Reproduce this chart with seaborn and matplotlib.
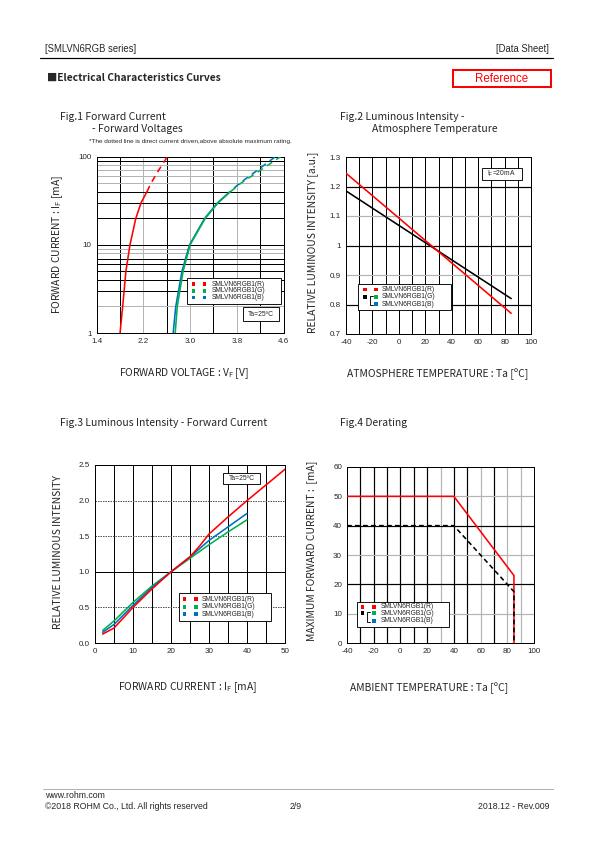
import matplotlib
matplotlib.use('Agg')
import matplotlib.pyplot as plt
from matplotlib.patches import Rectangle
from matplotlib.lines import Line2D
import seaborn as sns
import numpy as np

# ---- data ----
# Fig.1  forward current vs forward voltage
if_ma = [1, 2, 5, 10, 20, 30, 40, 50, 70, 100]
vf_r = [1.80, 1.845, 1.90, 1.97, 2.07, 2.16, 2.26, 2.33, 2.46, 2.61]
vf_g = [2.745, 2.78, 2.88, 3.00, 3.26, 3.48, 3.69, 3.87, 4.20, 4.55]
vf_b = [2.71, 2.755, 2.86, 2.99, 3.25, 3.47, 3.68, 3.85, 4.15, 4.46]
dc_max = 40   # above this the curve is dotted

# Fig.2  luminous intensity vs temperature
ta2 = [-40, 85]
iv_r2 = [1.245, 0.77]
iv_gb2 = [1.185, 0.82]

# Fig.3  luminous intensity vs forward current
if3_r = [2, 5, 10, 15, 20, 25, 27.5, 30, 35, 40, 45, 50]
iv3_r = [0.125, 0.21, 0.50, 0.76, 1.0, 1.21, 1.36, 1.53, 1.77, 2.0, 2.22, 2.44]
if3_gb = [2, 5, 10, 15, 20, 25, 30, 35, 40]
iv3_g = [0.175, 0.31, 0.57, 0.80, 1.0, 1.19, 1.38, 1.56, 1.73]
iv3_b = [0.15, 0.26, 0.53, 0.78, 1.0, 1.21, 1.44, 1.63, 1.82]

# Fig.4  derating
ta4 = [-40, 40, 85, 85]
imax_r = [50, 50, 23, 0]
imax_gb = [40, 40, 17.5, 0]

names = ['SMLVN6RGB1(R)', 'SMLVN6RGB1(G)', 'SMLVN6RGB1(B)']
RED, GREEN, BLUE = '#ff0000', '#00b050', '#0070c0'
GRID_K, GRID_G = '#000000', '#b4b4b4'

sns.set_style('white', {'axes.edgecolor': 'black'})
plt.rcParams['font.family'] = ['Liberation Sans', 'DejaVu Sans']
plt.rcParams['mathtext.default'] = 'regular'
plt.rcParams['axes.unicode_minus'] = False
GOTHIC = ['Noto Sans CJK JP', 'DejaVu Sans']
TS = 10.4   # figure titles
LS = 10.3   # axis labels

W, H = 595, 842
fig = plt.figure(figsize=(W / 72, H / 72), dpi=72)


def fx(px):
    return px / W


def fy(py):
    return 1 - py / H


def add_ax(l, t, r, b):
    ax = fig.add_axes([fx(l), fy(b), (r - l) / W, (b - t) / H])
    for s in ax.spines.values():
        s.set_color('black')
        s.set_linewidth(1.0)
    ax.tick_params(length=0, labelsize=8, pad=5)
    return ax


def box(l, t, r, b, lw=0.9, ec='black'):
    fig.add_artist(Rectangle((fx(l), fy(b)), (r - l) / W, (b - t) / H,
                             transform=fig.transFigure, fill=True, fc='white',
                             ec=ec, lw=lw, zorder=5))


def square(x, y, c):
    s = 3.6
    fig.add_artist(Rectangle((fx(x - s / 2), fy(y + s / 2)), s / W, s / H,
                             transform=fig.transFigure, color=c, lw=0, zorder=6))


def key(l, t, r, b, sq_x, txt_x, rows_y, bracket=False):
    box(l, t, r, b)
    cols = [RED, GREEN, BLUE]
    for i, (nm, y) in enumerate(zip(names, rows_y)):
        if bracket:
            if i == 0:
                square(sq_x[0], y, RED)
            elif i == 1:
                square(sq_x[0], y, 'black')
            square(sq_x[1], y, cols[i])
        else:
            square(sq_x[0], y, cols[i])
            square(sq_x[1], y, cols[i])
        fig.text(fx(txt_x), fy(y), nm, fontsize=6.6, va='center', ha='left',
                 color='#222222', zorder=7)
    if bracket:
        bx = sq_x[0] + 4.5
        fig.add_artist(Line2D([fx(bx + 3), fx(bx), fx(bx), fx(bx + 3)],
                              [fy(rows_y[1] - 1.5), fy(rows_y[1] - 1.5),
                               fy(rows_y[2] + 1), fy(rows_y[2] + 1)],
                              transform=fig.transFigure, color='black', lw=0.9, zorder=6))


def note(l, t, r, b, s):
    box(l, t, r, b)
    fig.text(fx((l + r) / 2), fy((t + b) / 2), s, fontsize=6.8, ha='center',
             va='center', zorder=7)


def curve(ax, x, y, c, **kw):
    sns.lineplot(x=x, y=y, ax=ax, color=c, lw=1.6, sort=False, estimator=None,
                 zorder=kw.pop('zorder', 3), **kw)


# ---- page header / footer ----
fig.text(fx(45), fy(49), '[SMLVN6RGB series]', fontsize=9.5, va='center')
fig.text(fx(549), fy(49), '[Data Sheet]', fontsize=9.5, va='center', ha='right')
fig.add_artist(Line2D([fx(40), fx(553)], [fy(58), fy(58)], transform=fig.transFigure,
                      color='black', lw=1.2))
fig.text(fx(47), fy(77.5), '■Electrical Characteristics Curves', fontsize=10.3,
         va='center', fontweight='bold', family=GOTHIC)
box(453, 70, 551, 87, lw=2, ec=RED)
fig.text(fx(502), fy(78.5), 'Reference', fontsize=11.5, color=RED, ha='center', va='center',
         zorder=7)
fig.add_artist(Line2D([fx(43), fx(553)], [fy(789), fy(789)], transform=fig.transFigure,
                      color='#b0b0b0', lw=1))
fig.text(fx(45), fy(796), 'www.rohm.com', fontsize=8.8, va='center')
fig.text(fx(45), fy(806.5), '©2018 ROHM Co., Ltd. All rights reserved', fontsize=8.8, va='center')
fig.text(fx(296), fy(806.5), '2/9', fontsize=8.8, va='center', ha='center')
fig.text(fx(549), fy(806.5), '2018.12 - Rev.009', fontsize=8.8, va='center', ha='right')

# ---- Fig.1 ----
fig.text(fx(60), fy(117), 'Fig.1 Forward Current', fontsize=TS, va='center', family=GOTHIC)
fig.text(fx(92), fy(129), '- Forward Voltages', fontsize=TS, va='center', family=GOTHIC)
fig.text(fx(89), fy(142), '*The dotted line is direct current driven,above absolute maximum rating.',
         fontsize=6.4, va='center')

ax1 = add_ax(96.7, 156.7, 283.5, 333)
ax1.set_yscale('log')
ax1.set_xlim(1.4, 4.6)
ax1.set_ylim(1, 100)
for k, v in enumerate(np.arange(1.8, 4.3, 0.4)):
    ax1.axvline(v, color=GRID_K if k % 2 == 0 else GRID_G, lw=1, zorder=1)
for dec in [1, 10]:
    for m in range(2, 10):
        gray = m in (2, 8, 9) if dec == 1 else m in (5, 6, 7, 8)
        ax1.axhline(dec * m, color=GRID_G if gray else GRID_K, lw=1, zorder=1)
ax1.axhline(10, color=GRID_K, lw=1, zorder=1)

lo = [i for i, v in enumerate(if_ma) if v <= dc_max]
hi = [i for i, v in enumerate(if_ma) if v >= dc_max]
vf_sets = [(vf_b, BLUE, (3.5, (4, 3))), (vf_g, GREEN, (0, (4, 3))), (vf_r, RED, (0, (4, 3)))]
for vf, c, dash in vf_sets:
    curve(ax1, [vf[i] for i in lo], [if_ma[i] for i in lo], c)
    curve(ax1, [vf[i] for i in hi], [if_ma[i] for i in hi], c, linestyle=dash)
ax1.set_xticks([1.4, 2.2, 3.0, 3.8, 4.6])
ax1.set_xticklabels(['1.4', '2.2', '3.0', '3.8', '4.6'])
ax1.set_yticks([1, 10, 100])
ax1.set_yticklabels(['1', '10', '100'])
ax1.yaxis.set_minor_locator(matplotlib.ticker.NullLocator())
fig.text(fx(184), fy(374), 'FORWARD VOLTAGE : $\\mathregular{V_F}$ [V]', fontsize=LS,
         ha='center', va='center', family=GOTHIC)
fig.text(fx(58), fy(245), 'FORWARD CURRENT : $\\mathregular{I_F}$ [mA]', fontsize=LS,
         ha='center', va='center', rotation=90, family=GOTHIC)
key(187, 278, 280.5, 303.5, [193.3, 204.3], 211.5, [284, 290.7, 297.3])
note(243.3, 307.5, 279.3, 320.5, 'Ta=25ºC')

# ---- Fig.2 ----
fig.text(fx(340), fy(117), 'Fig.2 Luminous Intensity -', fontsize=TS, va='center', family=GOTHIC)
fig.text(fx(372.5), fy(129), 'Atmosphere Temperature', fontsize=TS, va='center', family=GOTHIC)
ax2 = add_ax(346, 157, 531, 334)
ax2.set_xlim(-40, 100)
ax2.set_ylim(0.7, 1.3)
for v in range(-30, 100, 10):
    ax2.axvline(v, color=GRID_K, lw=1, zorder=1)
for v, c in zip([0.8, 0.9, 1.0, 1.1, 1.2], [GRID_K, GRID_G, GRID_K, GRID_G, GRID_K]):
    ax2.axhline(v, color=c, lw=1.2, zorder=1)
curve(ax2, ta2, iv_gb2, 'black')
curve(ax2, ta2, iv_r2, RED)
ax2.set_xticks(range(-40, 101, 20))
ax2.set_yticks([0.7, 0.8, 0.9, 1.0, 1.1, 1.2, 1.3])
ax2.set_yticklabels(['0.7', '0.8', '0.9', '1', '1.1', '1.2', '1.3'])
fig.text(fx(438), fy(374), 'ATMOSPHERE TEMPERATURE : Ta [ºC]', fontsize=LS,
         ha='center', va='center', family=GOTHIC)
fig.text(fx(313), fy(242), 'RELATIVE LUMINOUS INTENSITY [a.u.]', fontsize=LS,
         ha='center', va='center', rotation=90, family=GOTHIC)
key(358, 284, 450.5, 310, [365, 376], 382, [289.5, 297, 304], bracket=True)
note(482, 168.5, 521.5, 179.5, '$\\mathregular{I_F}$=20mA')

# ---- Fig.3 ----
fig.text(fx(60), fy(423), 'Fig.3 Luminous Intensity - Forward Current', fontsize=TS,
         va='center', family=GOTHIC)
ax3 = add_ax(95, 465, 285, 643)
ax3.set_xlim(0, 50)
ax3.set_ylim(0, 2.5)
for v in range(5, 50, 5):
    ax3.axvline(v, color=GRID_K, lw=1, zorder=1)
for v in [0.5, 1.5, 2.0]:
    ax3.axhline(v, color='#555555', lw=1, ls=(0, (1.5, 1)), zorder=1)
ax3.axhline(1.0, color=GRID_K, lw=1, zorder=1)
curve(ax3, if3_gb, iv3_g, GREEN)
curve(ax3, if3_gb, iv3_b, BLUE)
curve(ax3, if3_r, iv3_r, RED)
ax3.set_xticks(range(0, 51, 10))
ax3.set_yticks([0, 0.5, 1.0, 1.5, 2.0, 2.5])
ax3.set_yticklabels(['0.0', '0.5', '1.0', '1.5', '2.0', '2.5'])
fig.text(fx(187.5), fy(688), 'FORWARD CURRENT : $\\mathregular{I_F}$ [mA]', fontsize=LS,
         ha='center', va='center', family=GOTHIC)
fig.text(fx(58), fy(552), 'RELATIVE LUMINOUS INTENSITY', fontsize=LS,
         ha='center', va='center', rotation=90, family=GOTHIC)
key(178.5, 593.3, 271, 620.5, [184.3, 195.7], 202, [599.3, 606.7, 614])
note(223, 472.7, 259.7, 484, 'Ta=25ºC')

# ---- Fig.4 ----
fig.text(fx(340), fy(423), 'Fig.4 Derating', fontsize=TS, va='center', family=GOTHIC)
ax4 = add_ax(347, 467, 534, 643)
ax4.set_xlim(-40, 100)
ax4.set_ylim(0, 60)
vgray = {30, 60, 80, 90}
for v in range(-30, 100, 10):
    ax4.axvline(v, color=GRID_G if v in vgray else GRID_K, lw=1.2, zorder=1)
for v in range(10, 60, 10):
    ax4.axhline(v, color=GRID_G if v in (10, 30, 50) else GRID_K, lw=1.2, zorder=1)
curve(ax4, ta4, imax_r, RED)
curve(ax4, ta4, imax_gb, 'black', zorder=4, linestyle=(0, (3, 2)))
ax4.set_xticks(range(-40, 101, 20))
ax4.set_yticks(range(0, 61, 10))
fig.text(fx(429), fy(688), 'AMBIENT TEMPERATURE : Ta [ºC]', fontsize=LS,
         ha='center', va='center', family=GOTHIC)
fig.text(fx(312), fy(551), 'MAXIMUM FORWARD CURRENT :  [mA]', fontsize=LS,
         ha='center', va='center', rotation=90, family=GOTHIC)
key(357.3, 601.7, 449, 626.7, [362.3, 374], 381, [606.7, 613.3, 620.7], bracket=True)

for ax in (ax1, ax2, ax3, ax4):
    ax.set_xlabel('')
    ax.set_ylabel('')

fig.savefig('out.png', dpi=72)
